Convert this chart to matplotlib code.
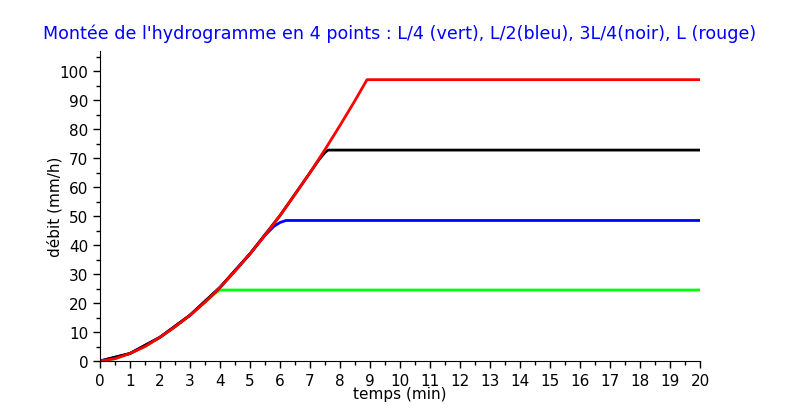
import matplotlib
matplotlib.use("Agg")
import matplotlib.pyplot as plt
from matplotlib.ticker import MultipleLocator

plt.rcParams['font.family'] = ['DejaVu Sans']

# red curve (point L)
t_L = [0, 0.5, 1, 1.5, 2, 2.5, 3, 3.5, 4, 4.5, 5, 5.5, 6, 6.5, 7, 7.5, 8, 8.5, 8.9, 20]
q_L = [0, 0.8, 2.6, 5.0, 8.2, 11.8, 15.8, 20.3, 25.4, 31.0, 37.0, 43.4, 50.2, 57.5, 65.0, 73.0, 81.3, 89.9, 97.1, 97.1]

# green (L/4)
t_L4 = [0, 0.5, 1, 1.5, 2, 2.5, 3, 3.5, 3.8, 4.0, 20]
q_L4 = [0, 0.8, 2.6, 5.0, 8.2, 11.8, 15.8, 20.3, 23.0, 24.5, 24.5]

# blue (L/2)
t_L2 = [0, 1, 2, 3, 4, 5, 5.5, 5.8, 6.0, 6.2, 20]
q_L2 = [0, 2.6, 8.2, 15.8, 25.4, 37.0, 43.4, 46.5, 47.8, 48.5, 48.5]

# black (3L/4)
t_3L4 = [0, 1, 2, 3, 4, 5, 6, 7, 7.3, 7.5, 7.6, 20]
q_3L4 = [0, 2.6, 8.2, 15.8, 25.4, 37.0, 50.2, 65.0, 69.5, 72.0, 72.8, 72.8]

fig = plt.figure(figsize=(8, 4.14), dpi=100)
ax = fig.add_axes([0.125, 0.1256, 0.75, 0.7488])

lw = 2.0
ax.plot(t_L4, q_L4, color="#00ff00", lw=lw)
ax.plot(t_L2, q_L2, color="#0000ff", lw=lw)
ax.plot(t_3L4, q_3L4, color="black", lw=lw)
ax.plot(t_L, q_L, color="#ff0000", lw=lw)

ax.set_xlim(0, 20)
ax.set_ylim(0, 107)
ax.xaxis.set_major_locator(MultipleLocator(1))
ax.xaxis.set_minor_locator(MultipleLocator(0.5))
ax.yaxis.set_minor_locator(MultipleLocator(5))
ax.set_yticks(range(0, 101, 10))

ax.spines["top"].set_visible(False)
ax.spines["right"].set_visible(False)
ax.tick_params(which="major", length=5, width=1, labelsize=11)
ax.tick_params(which="minor", length=3, width=1)

ax.set_xlabel("temps (min)", fontsize=11, labelpad=-1)
ax.set_ylabel("débit (mm/h)", fontsize=11)
ax.yaxis.set_label_coords(-0.062, 0.5)
ax.set_title("Montée de l'hydrogramme en 4 points : L/4 (vert), L/2(bleu), 3L/4(noir), L (rouge)",
             color="blue", fontsize=12.6, pad=9)

fig.savefig("out.png", dpi=100)
